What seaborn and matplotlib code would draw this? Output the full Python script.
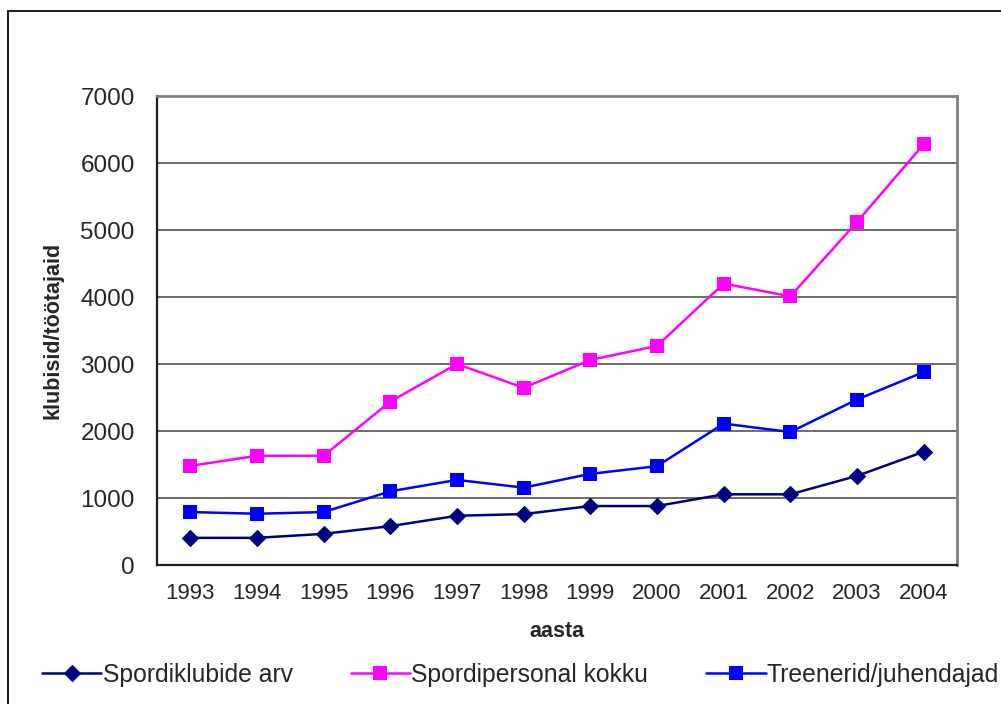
import numpy as np
import pandas as pd
import seaborn as sns
from matplotlib import pyplot as plt
from matplotlib.patches import Rectangle

aastad = ['1993', '1994', '1995', '1996', '1997', '1998', '1999', '2000', '2001', '2002', '2003', '2004']
klubid = [405, 405, 465, 580, 735, 760, 880, 880, 1055, 1055, 1330, 1690]
personal = [1480, 1630, 1630, 2440, 3000, 2645, 3060, 3270, 4200, 4010, 5120, 6280]
treenerid = [790, 765, 790, 1100, 1270, 1155, 1360, 1475, 2110, 1985, 2470, 2880]

nimed = ['Spordiklubide arv', 'Spordipersonal kokku', 'Treenerid/juhendajad']
varvid = ['#000080', '#FF00FF', '#0000FF']

sns.set_style('white')
plt.rcParams['font.family'] = ['Liberation Sans', 'DejaVu Sans']

df = pd.DataFrame({'x': np.arange(len(aastad)), 'klubid': klubid,
                   'personal': personal, 'treenerid': treenerid})

fig = plt.figure(figsize=(10.01, 7.04), dpi=100)
ax = fig.add_axes([157/1001, 1-565/704, 800/1001, 469/704])

# graafikute read
sns.lineplot(data=df, x='x', y='klubid', ax=ax, color=varvid[0], marker='D',
             markersize=8, markeredgewidth=0.8, markeredgecolor=varvid[0],
             linewidth=1.8, label=nimed[0])
sns.lineplot(data=df, x='x', y='personal', ax=ax, color=varvid[1], marker='s',
             markersize=10, markeredgewidth=0, linewidth=1.8, label=nimed[1])
sns.lineplot(data=df, x='x', y='treenerid', ax=ax, color=varvid[2], marker='s',
             markersize=10, markeredgewidth=0, linewidth=1.8, label=nimed[2])

ax.set_xlim(-0.5, len(aastad) - 0.5)
ax.set_ylim(0, 7000)
ax.set_yticks(range(0, 7001, 1000))
ax.set_xticks(np.arange(len(aastad)))
ax.set_xticklabels(aastad)
ax.set_xticks(np.arange(len(aastad) + 1) - 0.5, minor=True)
ax.tick_params(axis='x', which='major', length=0, pad=13, labelsize=16)
ax.tick_params(axis='x', which='minor', length=5, width=1.2, color='#404040', direction='out')
ax.tick_params(axis='y', length=7, width=1.2, color='#404040', direction='out', pad=9, labelsize=17.5)

ax.yaxis.grid(True, color='#606060', linewidth=1.3)
ax.set_axisbelow(True)
for s in ['left', 'bottom']:
    ax.spines[s].set_color('#202020')
    ax.spines[s].set_linewidth(1.6)
for s in ['top', 'right']:
    ax.spines[s].set_color('#808080')
    ax.spines[s].set_linewidth(2)

ax.set_xlabel('aasta', fontsize=15.5, fontweight='bold', labelpad=12)
ax.set_ylabel('klubisid/töötajaid', fontsize=15.5, fontweight='bold', labelpad=12)

h, l = ax.get_legend_handles_labels()
ax.get_legend().remove()
fig.legend(h, l, loc='center', bbox_to_anchor=(0.52, 0.041), ncol=3, frameon=False,
           fontsize=17.8, handlelength=2.4, handletextpad=0.05, columnspacing=2.35)

# raam ümber joonise
fig.patches.append(Rectangle((8/1001, -0.05), 1.1, 1 - 11/704 + 0.05, transform=fig.transFigure,
                             fill=False, edgecolor='#202020', linewidth=1.5))

fig.savefig('out.png', dpi=100)
